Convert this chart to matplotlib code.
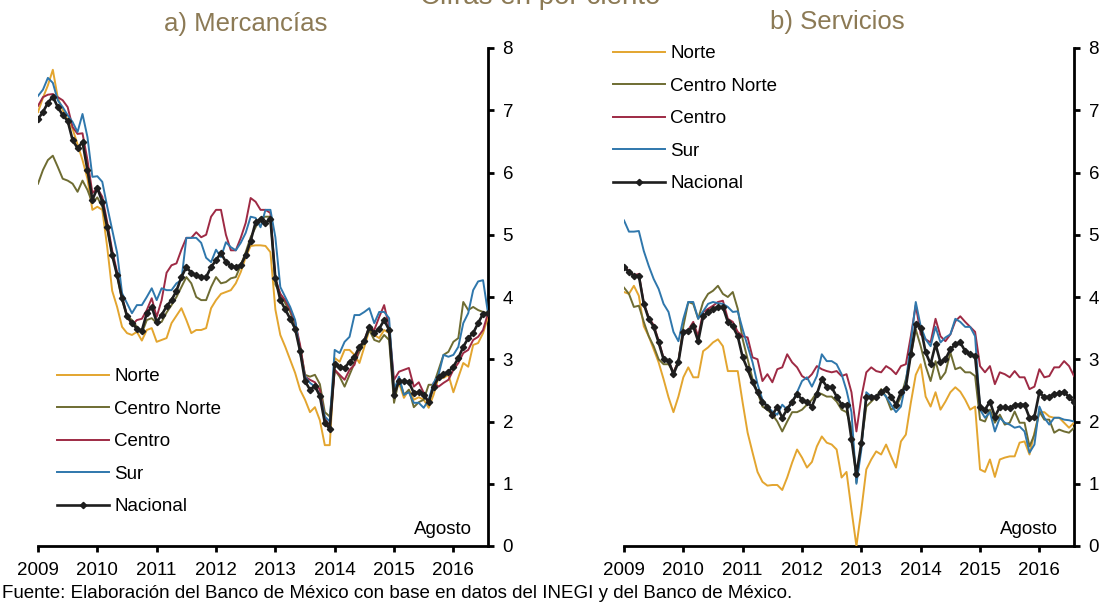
import matplotlib
matplotlib.use("Agg")
import matplotlib.pyplot as plt
import numpy as np

plt.rcParams['font.family'] = ['Liberation Sans', 'DejaVu Sans']

# monthly, Jan 2009 - Aug 2016
n_months = 92
fechas = 2009 + np.arange(n_months) / 12.0
year_ticks = [2009, 2010, 2011, 2012, 2013, 2014, 2015, 2016]

regiones = ["Norte", "Centro Norte", "Centro", "Sur", "Nacional"]
colores = ["#E3A52F", "#6E6C32", "#9E2A44", "#2F77AC", "#1E1E1E"]

# a) Mercancias
merc_norte = [6.97, 7.2, 7.4, 7.65, 7.2, 7.0, 6.85, 6.7, 6.45, 6.2, 5.9, 5.4,
              5.45, 5.4, 4.8, 4.1, 3.84, 3.52, 3.42, 3.39, 3.44, 3.3, 3.47, 3.5,
              3.28, 3.31, 3.34, 3.58, 3.7, 3.82, 3.63, 3.42, 3.47, 3.47, 3.5, 3.82,
              3.95, 4.05, 4.08, 4.11, 4.22, 4.4, 4.64, 4.82, 4.83, 4.83, 4.82, 4.72,
              3.8, 3.39, 3.2, 2.99, 2.78, 2.51, 2.35, 2.15, 2.23, 2.02, 1.62, 1.62,
              3.02, 2.96, 3.15, 3.15, 3.07, 2.94, 3.2, 3.47, 3.39, 3.34, 3.47, 3.42,
              2.51, 2.62, 2.38, 2.51, 2.35, 2.39, 2.35, 2.22, 2.43, 2.71, 2.7, 2.75,
              2.47, 2.71, 2.94, 2.88, 3.23, 3.26, 3.42, 3.68]
merc_cnorte = [5.82, 6.04, 6.2, 6.27, 6.09, 5.9, 5.87, 5.82, 5.69, 5.87, 5.72, 5.51,
               5.6, 5.45, 5.1, 4.7, 4.35, 3.95, 3.7, 3.63, 3.52, 3.42, 3.63, 3.66,
               3.58, 3.6, 3.75, 3.87, 4.0, 4.16, 4.32, 4.22, 4.0, 3.95, 3.95, 4.16,
               4.32, 4.22, 4.24, 4.3, 4.32, 4.51, 4.72, 4.96, 5.12, 5.27, 5.29, 5.29,
               4.2, 4.05, 3.9, 3.76, 3.55, 3.2, 2.75, 2.72, 2.75, 2.6, 2.15, 2.08,
               2.83, 2.72, 2.56, 2.75, 2.94, 3.12, 3.28, 3.47, 3.31, 3.28, 3.39, 3.31,
               2.3, 2.67, 2.43, 2.51, 2.23, 2.31, 2.35, 2.59, 2.59, 2.83, 3.07, 3.12,
               3.28, 3.34, 3.92, 3.79, 3.84, 3.79, 3.76, 3.74]
merc_centro = [7.07, 7.21, 7.25, 7.26, 7.21, 7.16, 7.05, 6.73, 6.62, 6.63, 6.2, 5.67,
               5.75, 5.61, 5.2, 4.75, 4.4, 4.0, 3.7, 3.55, 3.63, 3.65, 3.79, 3.98,
               3.68, 3.95, 4.39, 4.51, 4.54, 4.76, 4.95, 4.95, 5.04, 4.96, 5.0, 5.29,
               5.4, 5.4, 5.0, 4.75, 4.75, 4.95, 5.19, 5.59, 5.53, 5.4, 5.4, 5.35,
               4.3, 4.05, 3.95, 3.8, 3.6, 3.23, 2.72, 2.67, 2.63, 2.51, 2.06, 1.91,
               2.83, 2.75, 2.67, 2.83, 2.91, 3.2, 3.31, 3.52, 3.47, 3.68, 3.87, 3.52,
               2.67, 2.8, 2.83, 2.86, 2.56, 2.63, 2.46, 2.3, 2.62, 2.56, 2.62, 2.67,
               2.83, 2.94, 3.1, 3.15, 3.31, 3.36, 3.47, 3.74]
merc_sur = [7.23, 7.33, 7.52, 7.44, 7.16, 7.05, 6.92, 6.81, 6.65, 6.94, 6.57, 5.93,
            5.94, 5.85, 5.45, 5.08, 4.71, 4.06, 3.9, 3.74, 3.87, 3.87, 4.0, 4.14,
            3.95, 4.14, 4.11, 4.11, 4.22, 4.27, 4.95, 4.95, 4.95, 4.87, 4.63, 4.56,
            4.76, 4.64, 4.88, 4.8, 4.75, 4.87, 5.03, 5.29, 5.27, 5.12, 5.4, 5.4,
            4.96, 4.16, 4.0, 3.84, 3.63, 3.1, 2.72, 2.62, 2.56, 2.43, 2.08, 2.0,
            3.15, 3.1, 3.28, 3.36, 3.71, 3.71, 3.76, 3.82, 3.58, 3.76, 3.76, 3.66,
            2.51, 2.72, 2.43, 2.47, 2.3, 2.3, 2.22, 2.35, 2.62, 2.75, 3.07, 3.04,
            3.07, 3.2, 3.58, 3.74, 4.11, 4.25, 4.27, 3.74]
merc_nacional = [6.86, 6.97, 7.12, 7.22, 7.05, 6.92, 6.83, 6.52, 6.39, 6.49, 6.04, 5.56,
                 5.75, 5.53, 5.12, 4.67, 4.35, 3.98, 3.69, 3.58, 3.49, 3.46, 3.74, 3.84,
                 3.6, 3.71, 3.85, 3.95, 4.1, 4.32, 4.48, 4.39, 4.35, 4.32, 4.32, 4.48,
                 4.59, 4.71, 4.56, 4.5, 4.48, 4.51, 4.67, 4.9, 5.2, 5.25, 5.19, 5.25,
                 4.3, 3.95, 3.8, 3.65, 3.49, 3.13, 2.65, 2.51, 2.57, 2.41, 1.98, 1.88,
                 2.92, 2.88, 2.86, 2.96, 3.04, 3.2, 3.29, 3.52, 3.42, 3.49, 3.63, 3.47,
                 2.43, 2.65, 2.65, 2.63, 2.46, 2.47, 2.43, 2.31, 2.56, 2.71, 2.76, 2.8,
                 2.88, 3.02, 3.2, 3.34, 3.42, 3.58, 3.73, 3.74]

# b) Servicios
serv_norte = [4.08, 4.05, 4.18, 4.02, 3.53, 3.37, 3.16, 2.95, 2.68, 2.39, 2.15, 2.4,
              2.71, 2.87, 2.71, 2.71, 3.13, 3.19, 3.27, 3.32, 3.21, 2.81, 2.81, 2.81,
              2.3, 1.82, 1.5, 1.19, 1.03, 0.97, 0.98, 0.98, 0.9, 1.1, 1.34, 1.55,
              1.42, 1.26, 1.35, 1.6, 1.76, 1.66, 1.63, 1.55, 1.1, 1.19, 0.58, 0.0,
              0.58, 1.23, 1.39, 1.52, 1.47, 1.63, 1.44, 1.26, 1.68, 1.79, 2.3, 2.75,
              2.92, 2.4, 2.24, 2.47, 2.19, 2.32, 2.47, 2.55, 2.48, 2.35, 2.19, 2.24,
              1.23, 1.19, 1.39, 1.11, 1.39, 1.42, 1.44, 1.44, 1.66, 1.68, 1.47, 1.82,
              2.15, 2.15, 2.08, 2.06, 2.06, 1.98, 1.9, 1.98]
serv_cnorte = [4.15, 4.05, 3.84, 3.86, 3.6, 3.37, 3.21, 3.0, 2.92, 2.92, 2.79, 2.97,
               3.53, 3.92, 3.89, 3.65, 3.92, 4.05, 4.1, 4.18, 4.05, 4.0, 4.08, 3.81,
               3.32, 3.0, 2.68, 2.47, 2.24, 2.19, 2.11, 2.0, 1.84, 2.0, 2.15, 2.15,
               2.19, 2.27, 2.35, 2.47, 2.44, 2.4, 2.4, 2.32, 2.19, 2.15, 1.9, 1.02,
               1.65, 2.24, 2.32, 2.4, 2.52, 2.4, 2.19, 2.24, 2.39, 2.68, 3.05, 3.48,
               3.21, 2.89, 2.65, 2.97, 2.68, 2.79, 3.11, 2.84, 2.87, 2.79, 2.79, 2.73,
               2.03, 2.0, 2.19, 1.98, 2.11, 1.95, 1.98, 2.16, 1.98, 1.98, 1.6, 1.79,
               2.16, 2.03, 2.03, 1.82, 1.87, 1.84, 1.82, 1.9]
serv_centro = [4.5, 4.42, 4.35, 4.37, 3.9, 3.67, 3.55, 3.3, 3.02, 2.98, 2.78, 2.97,
               3.45, 3.47, 3.6, 3.37, 3.76, 3.81, 3.86, 3.92, 3.94, 3.65, 3.6, 3.44,
               3.37, 3.35, 3.03, 3.0, 2.65, 2.76, 2.63, 2.84, 2.87, 3.08, 2.95, 2.87,
               2.73, 2.68, 2.76, 2.89, 2.84, 2.81, 2.79, 2.81, 2.73, 2.76, 2.47, 1.84,
               2.39, 2.79, 2.87, 2.81, 2.79, 2.89, 2.84, 2.76, 2.89, 2.92, 3.37, 3.87,
               3.4, 3.32, 3.27, 3.65, 3.37, 3.29, 3.4, 3.61, 3.69, 3.6, 3.52, 3.44,
               2.89, 2.79, 2.89, 2.6, 2.79, 2.76, 2.71, 2.81, 2.71, 2.71, 2.52, 2.56,
               2.84, 2.71, 2.73, 2.87, 2.87, 2.97, 2.89, 2.73]
serv_sur = [5.23, 5.05, 5.05, 5.06, 4.74, 4.5, 4.29, 4.13, 3.89, 3.76, 3.44, 3.29,
            3.65, 3.92, 3.92, 3.65, 3.77, 3.89, 3.92, 3.9, 3.89, 3.84, 3.76, 3.77,
            3.48, 3.21, 2.95, 2.6, 2.35, 2.24, 2.16, 2.11, 2.27, 2.19, 2.3, 2.47,
            2.65, 2.71, 2.56, 2.73, 3.08, 2.97, 2.97, 2.92, 2.76, 2.5, 2.15, 1.0,
            1.55, 2.47, 2.4, 2.4, 2.48, 2.4, 2.27, 2.15, 2.24, 2.63, 3.27, 3.92,
            3.53, 3.32, 3.21, 3.52, 3.27, 3.35, 3.4, 3.65, 3.6, 3.52, 3.52, 3.37,
            2.19, 2.06, 2.15, 1.84, 2.06, 1.98, 1.95, 1.9, 1.92, 1.84, 1.5, 1.63,
            2.24, 2.06, 1.95, 2.06, 2.06, 2.03, 2.02, 2.0]
serv_nacional = [4.48, 4.4, 4.34, 4.34, 3.89, 3.65, 3.52, 3.27, 3.0, 2.97, 2.76, 2.95,
                 3.44, 3.45, 3.53, 3.29, 3.69, 3.76, 3.81, 3.84, 3.84, 3.6, 3.53, 3.37,
                 3.03, 2.84, 2.63, 2.47, 2.32, 2.24, 2.11, 2.23, 2.06, 2.2, 2.32, 2.44,
                 2.35, 2.31, 2.24, 2.44, 2.68, 2.56, 2.55, 2.4, 2.27, 2.27, 1.72, 1.15,
                 1.65, 2.39, 2.4, 2.39, 2.47, 2.52, 2.4, 2.27, 2.47, 2.56, 3.08, 3.56,
                 3.51, 3.11, 2.92, 3.24, 2.95, 3.0, 3.16, 3.24, 3.27, 3.13, 3.08, 3.05,
                 2.24, 2.19, 2.32, 2.08, 2.23, 2.23, 2.21, 2.27, 2.27, 2.27, 2.06, 2.08,
                 2.47, 2.39, 2.4, 2.44, 2.45, 2.48, 2.39, 2.31]

titulo_color = "#8C7A55"
W, H = 1107, 605
fig = plt.figure(figsize=(W / 100, H / 100), dpi=100)

def panel(left_px, series, legend_anchor):
    ax = fig.add_axes([left_px / W, (H - 546) / H, 450 / W, 498 / H])
    for name, vals, col in zip(regiones, series, colores):
        if name == "Nacional":
            ax.plot(fechas, vals, color=col, lw=1.9, marker="D", ms=3.2,
                    label=name, zorder=5)
        else:
            ax.plot(fechas, vals, color=col, lw=1.4, label=name, zorder=3)
    ax.set_xlim(2009, 2016 + 7 / 12)
    ax.set_ylim(0, 8)
    ax.set_xticks(year_ticks)
    ax.set_xticklabels([str(y) for y in year_ticks])
    ax.set_yticks(range(0, 9))
    ax.yaxis.tick_right()
    for s in ["left", "top"]:
        ax.spines[s].set_visible(False)
    for s in ["bottom", "right"]:
        ax.spines[s].set_linewidth(2)
    ax.tick_params(axis="both", direction="out", length=4.5, width=2,
                   labelsize=13.5)
    ax.tick_params(axis="x", pad=7)
    ax.tick_params(axis="y", pad=6)
    ax.text(0.964, 0.024, "Agosto", transform=ax.transAxes, ha="right",
            va="baseline", fontsize=13.5)
    ax.legend(loc="upper left", bbox_to_anchor=legend_anchor,
              bbox_transform=fig.transFigure, frameon=False, fontsize=13.5,
              handlelength=2.75, handletextpad=0.3, labelspacing=0.82,
              borderpad=0, borderaxespad=0, numpoints=1)
    return ax

panel(38, [merc_norte, merc_cnorte, merc_centro, merc_sur, merc_nacional],
      (57 / W, 1 - 368 / H))
panel(624, [serv_norte, serv_cnorte, serv_centro, serv_sur, serv_nacional],
      (613 / W, 1 - 45 / H))

fig.text(246 / W, 1 - 24 / H, "a) Mercancías", ha="center", va="center",
         fontsize=18.5, color=titulo_color)
fig.text(837 / W, 1 - 22 / H, "b) Servicios", ha="center", va="center",
         fontsize=18.5, color=titulo_color)
fig.text(540 / W, 1 - 4 / H, "Cifras en por ciento", ha="center",
         va="baseline", fontsize=20, color=titulo_color)
fig.text(2 / W, 1 - 593 / H, "Fuente: Elaboración del Banco de México con base "
         "en datos del INEGI y del Banco de México.", ha="left", va="center",
         fontsize=13.5)

fig.savefig("out.png", dpi=100)
